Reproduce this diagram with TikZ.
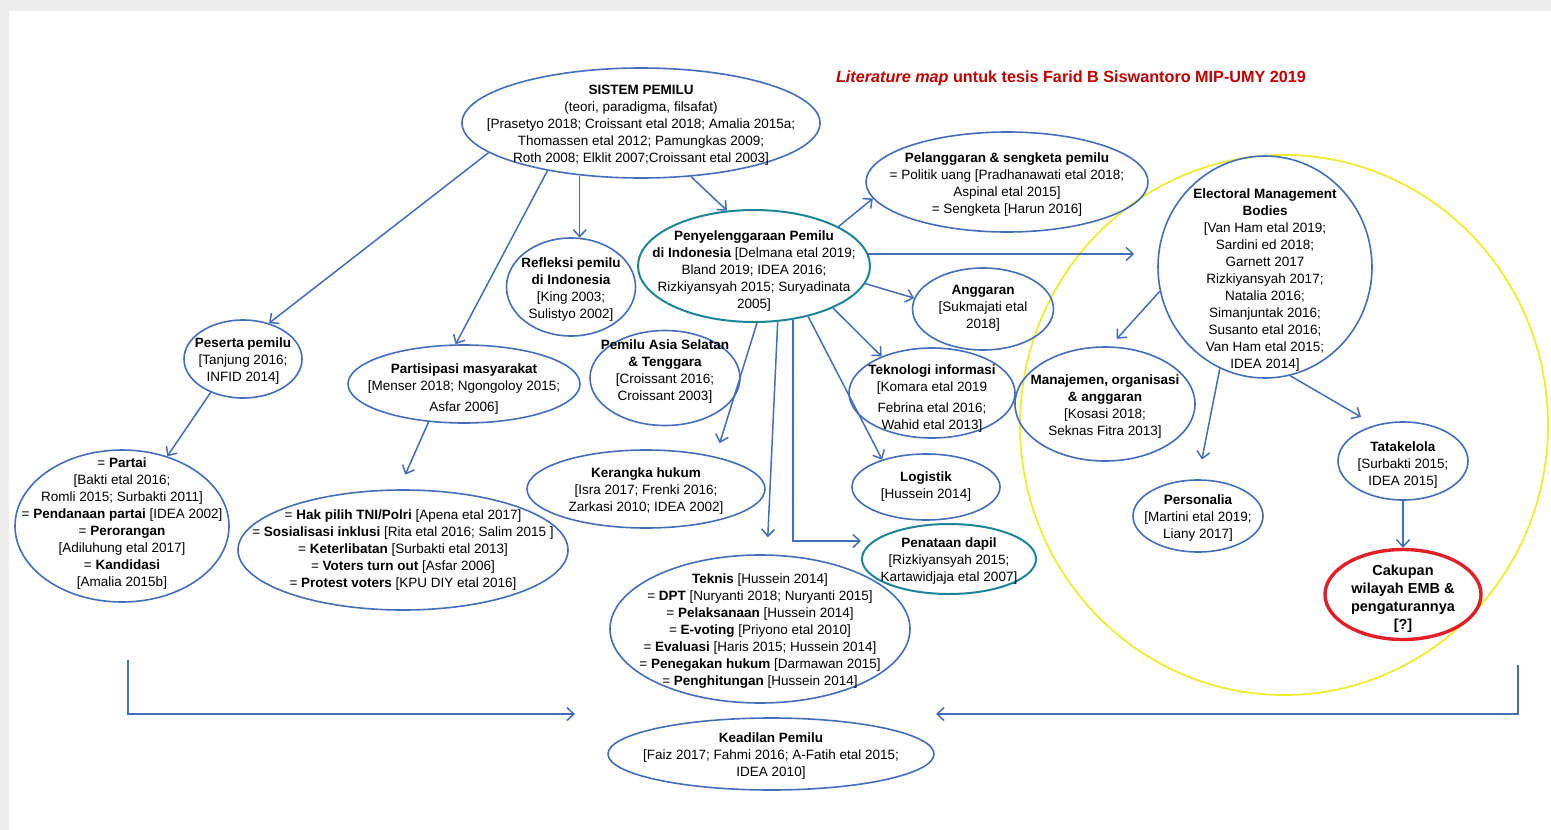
\documentclass[tikz,border=0pt]{standalone}
\usepackage{fontspec}
\setmainfont{Liberation Sans}
\usepackage{tikz}
\usetikzlibrary{arrows.meta,positioning,shapes.geometric}

\definecolor{embblue}{RGB}{68,110,186}
\definecolor{embteal}{RGB}{28,134,148}
\definecolor{embred}{RGB}{226,30,40}
\definecolor{embyellow}{RGB}{240,236,50}
\definecolor{titlered}{RGB}{192,0,0}

% text block centred in a bubble, no influence on its size
\newcommand{\bx}[2][0pt]{\smash{\makebox[0pt]{\raisebox{\dimexpr-6pt-#1\relax}{\begin{tabular}{@{}c@{}}#2\end{tabular}}}}}

\begin{document}
\begin{tikzpicture}[x=1pt,y=-1pt,>={Straight Barb[length=7pt,width=13pt]},
  bub/.style={draw=embblue,ellipse,line width=1.6pt,inner sep=0pt,font=\fontsize{13.5}{17}\selectfont},
  tbub/.style={bub,draw=embteal,line width=2pt},
  redbub/.style={bub,draw=embred,line width=3.4pt,font=\fontsize{14.5}{18}\selectfont\bfseries},
  sz/.style 2 args={minimum width=#1pt,minimum height=#2pt},
  arr/.style={->,draw=embblue,line width=1.5pt}]
\useasboundingbox (0,0) rectangle (1551,830);
\fill[black!7] (0,0) rectangle (1551,830);
\fill[white] (9,11) rectangle (1551,830);

% area of the EMB literature
\node[draw=embyellow,line width=1.8pt,ellipse,sz={528}{540}] (zone) at (1284,425) {};

\node[font=\fontsize{16.2}{19}\selectfont\bfseries,text=titlered] (title) at (1071,78)
  {\textit{Literature map} untuk tesis Farid B Siswantoro MIP-UMY 2019};

\node[bub,sz={358}{110}] (sis) at (641,123) {\bx{\textbf{SISTEM PEMILU}\\ (teori, paradigma, filsafat)\\ {[}Prasetyo 2018; Croissant etal 2018; Amalia 2015a;\\ Thomassen etal 2012; Pamungkas 2009;\\ Roth 2008; Elklit 2007;Croissant etal 2003]}};
\node[bub,sz={282}{100}] (pel) at (1007,182) {\bx{\textbf{Pelanggaran \& sengketa pemilu}\\ = Politik uang {[}Pradhanawati etal 2018;\\ Aspinal etal 2015]\\ = Sengketa {[}Harun 2016]}};
\node[bub,sz={214}{222}] (emb) at (1265,267) {\bx[11pt]{\textbf{Electoral Management}\\ \textbf{Bodies}\\ {[}Van Ham etal 2019;\\ Sardini ed 2018;\\ Garnett 2017\\ Rizkiyansyah 2017;\\ Natalia 2016;\\ Simanjuntak 2016;\\ Susanto etal 2016;\\ Van Ham etal 2015;\\ IDEA 2014]}};
\node[tbub,sz={232}{112}] (peny) at (754,266) {\bx[3pt]{\textbf{Penyelenggaraan Pemilu}\\ \textbf{di Indonesia} {[}Delmana etal 2019;\\ Bland 2019; IDEA 2016;\\ Rizkiyansyah 2015; Suryadinata\\ 2005]}};
\node[bub,sz={129}{98}] (ref) at (571,287) {\bx{\textbf{Refleksi pemilu}\\ \textbf{di Indonesia}\\ {[}King 2003;\\ Sulistyo 2002]}};
\node[bub,sz={141}{82}] (ang) at (983,309) {\bx[-3pt]{\textbf{Anggaran}\\ {[}Sukmajati etal\\ 2018]}};
\node[bub,sz={118}{78}] (pes) at (243,359) {\bx{\textbf{Peserta pemilu}\\ {[}Tanjung 2016;\\ INFID 2014]}};
\node[bub,sz={232}{78}] (par) at (464,384) {\bx[3pt]{\textbf{Partisipasi masyarakat}\\ {[}Menser 2018; Ngongoloy 2015;\\[4pt] Asfar 2006]}};
\node[bub,sz={150}{95}] (asia) at (665,378) {\bx[-9pt]{\textbf{Pemilu Asia Selatan}\\ \textbf{\& Tenggara}\\ {[}Croissant 2016;\\ Croissant 2003]}};
\node[bub,sz={166}{90}] (ti) at (932,393) {\bx[3pt]{\textbf{Teknologi informasi}\\ {[}Komara etal 2019\\[4pt] Febrina etal 2016;\\ Wahid etal 2013]}};
\node[bub,sz={180}{114}] (man) at (1105,404) {\bx{\textbf{Manajemen, organisasi}\\ \textbf{\& anggaran}\\ {[}Kosasi 2018;\\ Seknas Fitra 2013]}};
\node[bub,sz={130}{78}] (tata) at (1403,461) {\bx[2pt]{\textbf{Tatakelola}\\ {[}Surbakti 2015;\\ IDEA 2015]}};
\node[bub,sz={214}{152}] (partai) at (122,526) {\bx[-5pt]{= \textbf{Partai}\\ {[}Bakti etal 2016;\\ Romli 2015; Surbakti 2011]\\ = \textbf{Pendanaan partai} {[}IDEA 2002]\\ = \textbf{Perorangan}\\ {[}Adiluhung etal 2017]\\ = \textbf{Kandidasi}\\ {[}Amalia 2015b]}};
\node[bub,sz={330}{120}] (hak) at (403,550) {\bx[-2pt]{= \textbf{Hak pilih TNI/Polri} {[}Apena etal 2017]\\ = \textbf{Sosialisasi inklusi} {[}Rita etal 2016; Salim 2015 ]\\ = \textbf{Keterlibatan} {[}Surbakti etal 2013]\\ = \textbf{Voters turn out} {[}Asfar 2006]\\ = \textbf{Protest voters} {[}KPU DIY etal 2016]}};
\node[bub,sz={238}{78}] (ker) at (646,489) {\bx{\textbf{Kerangka hukum}\\ {[}Isra 2017; Frenki 2016;\\ Zarkasi 2010; IDEA 2002]}};
\node[bub,sz={148}{66}] (log) at (926,487) {\bx[-3pt]{\textbf{Logistik}\\ {[}Hussein 2014]}};
\node[tbub,sz={174}{70}] (dapil) at (949,559) {\bx{\textbf{Penataan dapil}\\ {[}Rizkiyansyah 2015;\\ Kartawidjaja etal 2007]}};
\node[bub,sz={130}{72}] (pers) at (1198,516) {\bx{\textbf{Personalia}\\ {[}Martini etal 2019;\\ Liany 2017]}};
\node[redbub,sz={156}{90},below=47pt of tata] (cak) {\bx[2pt]{Cakupan\\ wilayah EMB \&\\ pengaturannya\\ {[}?]}};
\node[bub,sz={300}{148}] (teknis) at (760,629) {\bx{\textbf{Teknis} {[}Hussein 2014]\\ = \textbf{DPT} {[}Nuryanti 2018; Nuryanti 2015]\\ = \textbf{Pelaksanaan} {[}Hussein 2014]\\ = \textbf{E-voting} {[}Priyono etal 2010]\\ = \textbf{Evaluasi} {[}Haris 2015; Hussein 2014]\\ = \textbf{Penegakan hukum} {[}Darmawan 2015]\\ = \textbf{Penghitungan} {[}Hussein 2014]}};
\node[bub,sz={326}{72}] (adil) at (771,754) {\bx{\textbf{Keadilan Pemilu}\\ {[}Faiz 2017; Fahmi 2016; A-Fatih etal 2015;\\ IDEA 2010]}};

\coordinate (outL) at (128,660);
\coordinate (inL) at (575,714);
\coordinate (outR) at (1518,665);
\coordinate (inR) at (936,714);

% from the system of elections
\draw[arr] (sis.191) -- (pes.54);
\draw[arr] (sis.207) -- (par.102);
\draw[arr] (ref.80 |- sis.222) -- (ref.80);
\draw[arr] (sis.313) -- (peny.116);
% from the organisation of elections
\draw[arr] (peny.25) -- (pel.187);
\draw[arr,shorten >=23pt] (peny.6) -- (peny.6 -| emb.west);
\draw[arr] (peny.351) -- (ang.171);
\draw[arr] (peny.332) -- (ti.144);
\draw[arr] (peny.317) -- (log.148);
\draw[arr] (peny.306) |- ([yshift=18pt]dapil.west);
\draw[arr,shorten >=17pt] (peny.293) -- ([xshift=7pt]teknis.north);
\draw[arr,shorten >=14pt] (peny.273) -- (ker.25);
\draw[arr] (pes.226) -- (partai.57);
\draw[arr,shorten >=16pt] (par.227) -- (hak.94);
% EMB branch
\draw[arr,shorten >=10pt] (emb.193) -- (man.85);
\draw[arr,shorten >=20pt] (emb.246) -- (pers.90);
\draw[arr,shorten >=16pt] (emb.283) -- (tata.128);
\draw[arr] (tata.south) -- (cak.north);
% towards electoral justice
\draw[arr] (outL) |- (inL);
\draw[arr] (outR) |- (inR);
\end{tikzpicture}
\end{document}
